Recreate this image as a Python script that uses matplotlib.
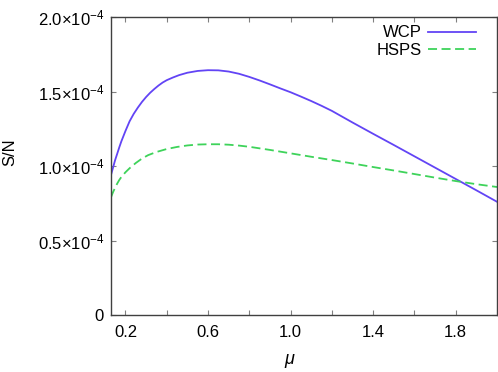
import numpy as np
import matplotlib
matplotlib.use("Agg")
import matplotlib.pyplot as plt

plt.rcParams['font.family'] = ['Liberation Sans', 'DejaVu Sans']
plt.rcParams['mathtext.fontset'] = 'custom'
plt.rcParams['mathtext.rm'] = 'Liberation Sans'
plt.rcParams['mathtext.it'] = 'Liberation Sans:italic'

# WCP curve (S/N in units of 1e-4)
mu_wcp = [0.13, 0.14, 0.15, 0.16, 0.17, 0.18, 0.19, 0.20, 0.22, 0.24, 0.26, 0.28,
          0.30, 0.32, 0.34, 0.36, 0.38, 0.40, 0.43, 0.46, 0.50, 0.55, 0.60, 0.65,
          0.70, 0.75, 0.80, 0.85, 0.90, 0.95, 1.00, 1.05, 1.10, 1.15, 1.20, 1.30,
          1.40, 1.50, 1.60, 1.70, 1.80, 1.90, 2.00]
sn_wcp = [0.94, 0.99, 1.04, 1.082, 1.125, 1.165, 1.200, 1.235, 1.300, 1.350, 1.392, 1.430,
          1.463, 1.492, 1.517, 1.540, 1.560, 1.576, 1.594, 1.610, 1.626, 1.638, 1.643, 1.642,
          1.634, 1.619, 1.598, 1.574, 1.548, 1.521, 1.495, 1.466, 1.436, 1.404, 1.370, 1.292,
          1.216, 1.141, 1.065, 0.989, 0.913, 0.837, 0.760]

# HSPS curve
mu_hsps = [0.13, 0.14, 0.15, 0.16, 0.17, 0.18, 0.20, 0.22, 0.25, 0.28, 0.31, 0.35,
           0.40, 0.45, 0.50, 0.55, 0.60, 0.65, 0.70, 0.75, 0.80, 0.90, 1.00, 1.10,
           1.20, 1.30, 1.40, 1.50, 1.60, 1.70, 1.80, 1.90, 2.00]
sn_hsps = [0.79, 0.825, 0.855, 0.882, 0.906, 0.926, 0.958, 0.985, 1.020, 1.050, 1.073, 1.094,
           1.114, 1.128, 1.138, 1.144, 1.146, 1.146, 1.143, 1.137, 1.129, 1.108, 1.085, 1.062,
           1.040, 1.017, 0.993, 0.970, 0.946, 0.922, 0.899, 0.878, 0.859]

xticks = [0.2, 0.4, 0.6, 0.8, 1.0, 1.2, 1.4, 1.6, 1.8]
xticklabels = ['0.2', '', '0.6', '', '1.0', '', '1.4', '', '1.8']
yticks = [0, 0.5e-4, 1.0e-4, 1.5e-4, 2.0e-4]
yticklabels = ['0', r'0.5$\times$10$^{-4}$', r'1.0$\times$10$^{-4}$',
               r'1.5$\times$10$^{-4}$', r'2.0$\times$10$^{-4}$']

fig = plt.figure(figsize=(4.98, 3.72), dpi=100)
ax = fig.add_axes([0.2229, 0.1532, 0.7751, 0.8011])

ax.plot(mu_wcp, np.array(sn_wcp) * 1e-4, color='#6244f5', lw=1.3, label='WCP')
ax.plot(mu_hsps, np.array(sn_hsps) * 1e-4, color='#3ed35a', lw=1.3,
        dashes=(5, 2.5), label='HSPS')

ax.set_xlim(0.13, 2.0)
ax.set_ylim(0, 2.0e-4)
ax.set_xticks(xticks, xticklabels)
ax.set_yticks(yticks, yticklabels)
ax.tick_params(direction='in', length=3.5, width=0.8, color='#808080',
               labelsize=12, top=True, right=True)
ax.tick_params(axis='x', pad=7)
ax.tick_params(axis='y', pad=5)
for s in ax.spines.values():
    s.set_color('#404040')
    s.set_linewidth(1.0)

ax.set_xlabel(r'$\mu$', fontsize=13)
ax.xaxis.set_label_coords((290 - 111) / 386, -0.125)
ax.set_ylabel('S/N', fontsize=12)
ax.yaxis.set_label_coords(-0.243, 0.547)

ax.legend(loc='upper right', bbox_to_anchor=(0.946, 0.972), frameon=False,
          markerfirst=False, fontsize=12, handlelength=2.9, handletextpad=0.35,
          labelspacing=0.15, borderpad=0, borderaxespad=0)

fig.savefig('out.png', dpi=100)
